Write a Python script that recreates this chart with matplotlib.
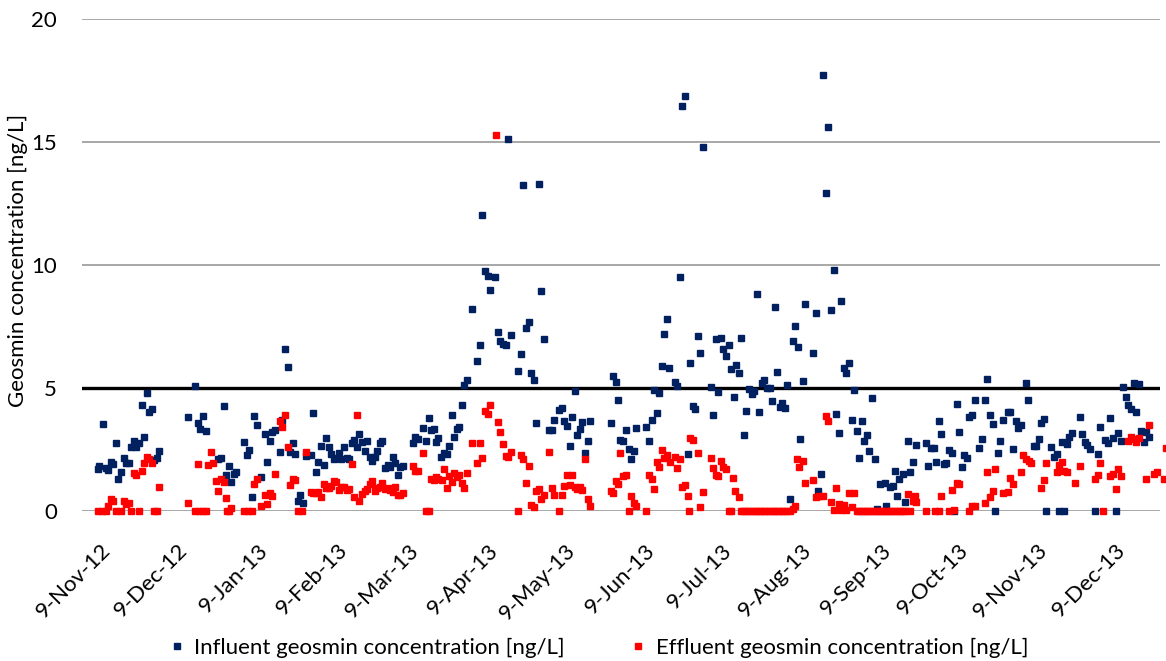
import matplotlib
matplotlib.use("Agg")
import matplotlib.pyplot as plt
from matplotlib.lines import Line2D
from datetime import date

# ---- data (x = days since 1-Nov-2012) ----
inf_day = [4.0, 4.7, 5.9, 7.2, 8.0, 9.2, 9.9, 11.1, 11.9, 13.0, 14.2, 15.0, 16.2, 16.9, 18.1, 18.9, 20.1,
           21.2, 22.0, 23.2, 24.0, 25.1, 25.9, 27.1, 27.9, 39.2, 41.9, 43.0, 43.8, 45.0, 46.2, 50.9, 52.0,
           53.2, 54.0, 55.1, 55.9, 57.1, 57.9, 61.0, 62.1, 62.9, 64.1, 64.9, 66.0, 67.8, 69.2, 69.9, 71.1,
           71.9, 73.0, 75.0, 75.8, 76.9, 78.1, 78.9, 80.1, 80.8, 82.0, 82.8, 84.0, 85.1, 87.1, 87.9, 89.1,
           89.8, 91.0, 92.2, 93.0, 94.1, 94.9, 96.1, 97.2, 98.0, 98.8, 100.0, 101.1, 101.9, 103.1, 103.8,
           105.0, 105.8, 107.0, 108.1, 108.9, 110.1, 110.8, 112.0, 112.8, 114.0, 114.7, 115.9, 117.1, 117.8,
           119.0, 119.8, 121.0, 121.7, 122.9, 126.8, 127.6, 128.8, 130.7, 131.9, 133.1, 133.8, 135.0, 135.8,
           136.5, 137.7, 138.9, 140.0, 140.8, 141.9, 142.8, 143.9, 144.7, 146.0, 146.6, 147.7, 149.8, 151.6,
           152.8, 153.7, 154.7, 155.9, 156.7, 158.6, 159.8, 160.6, 161.7, 162.9, 163.8, 164.9, 167.6, 168.8,
           169.5, 170.7, 171.9, 172.7, 173.8, 174.7, 175.9, 176.5, 177.7, 179.8, 181.0, 181.7, 183.7, 184.8,
           185.6, 186.8, 188.0, 188.7, 189.8, 190.7, 191.9, 192.6, 193.8, 195.0, 195.8, 203.9, 204.6, 205.8,
           206.6, 207.4, 208.6, 209.8, 210.9, 211.7, 212.9, 213.7, 217.5, 218.6, 219.8, 220.6, 221.7, 222.5,
           223.7, 224.5, 225.6, 226.6, 228.7, 229.5, 230.7, 231.5, 232.6, 233.8, 234.6, 235.8, 236.5, 237.7,
           238.5, 239.8, 242.8, 243.6, 244.7, 245.5, 246.7, 247.4, 248.6, 249.8, 250.6, 251.7, 252.5, 253.7,
           254.5, 255.6, 256.4, 257.6, 258.7, 259.5, 260.7, 261.5, 262.6, 263.4, 264.6, 265.8, 266.5, 267.7,
           268.5, 269.6, 270.4, 271.6, 272.4, 273.6, 274.7, 275.5, 276.7, 277.4, 278.6, 279.4, 282.5, 283.7,
           284.5, 285.6, 286.5, 287.6, 288.3, 289.5, 290.7, 291.5, 292.6, 293.4, 294.6, 295.4, 296.5, 297.7,
           298.5, 299.6, 300.4, 301.6, 302.4, 303.5, 304.3, 305.5, 306.7, 307.4, 308.6, 310.6, 311.0, 312.5,
           313.7, 314.5, 315.5, 316.0, 317.6, 318.4, 319.6, 320.3, 321.5, 322.7, 326.5, 327.3, 328.5, 329.7,
           330.5, 331.6, 332.4, 333.5, 334.3, 335.5, 336.6, 337.6, 338.6, 339.4, 340.6, 341.3, 342.5, 343.3,
           344.5, 345.6, 347.3, 348.5, 349.6, 350.4, 351.6, 352.7, 353.5, 354.7, 355.5, 356.6, 358.6, 359.3,
           360.5, 361.7, 362.5, 363.7, 365.6, 366.4, 368.8, 369.6, 370.7, 371.5, 372.7, 373.3, 375.4, 376.6,
           377.7, 378.3, 379.7, 380.3, 381.6, 382.5, 383.6, 386.7, 387.5, 388.7, 389.5, 390.7, 392.3, 393.8,
           394.5, 396.5, 397.7, 398.4, 399.6, 400.5, 401.6, 402.8, 403.4, 404.4, 405.3, 406.4, 407.6, 408.3,
           409.5, 410.3, 411.4, 412.2, 413.4]
inf_val = [1.69, 1.84, 3.54, 1.73, 1.67, 1.99, 1.91, 2.78, 1.31, 1.59, 2.17, 1.94, 1.96, 2.62, 2.86, 2.62, 2.78,
           4.32, 3.02, 4.81, 4.04, 4.16, 2.07, 2.17, 2.45, 3.83, 5.09, 3.59, 3.35, 3.87, 3.27, 2.13, 2.17,
           4.28, 1.48, 1.84, 1.19, 1.52, 1.60, 2.82, 2.29, 2.49, 0.58, 3.87, 3.51, 1.40, 3.14, 2.00, 2.86,
           3.22, 3.31, 2.41, 3.71, 6.60, 5.87, 2.41, 2.78, 2.33, 0.42, 0.66, 0.34, 2.25, 2.29, 4.00, 1.60,
           2.00, 2.65, 1.88, 2.98, 2.62, 2.33, 2.13, 2.17, 2.37, 2.13, 2.62, 2.17, 2.13, 2.78, 2.90,
           2.62, 3.14, 2.82, 2.45, 2.86, 2.21, 2.04, 2.21, 2.45, 2.78, 2.86, 1.76, 1.88, 1.80,
           2.21, 1.96, 1.48, 1.80, 1.84, 2.78, 3.02, 2.94, 3.39, 2.86, 3.79, 3.31, 3.35, 2.82,
           2.98, 2.21, 2.37, 2.33, 2.65, 3.92, 3.02, 3.35, 3.43, 4.32, 5.13, 5.34, 8.22, 6.11,
           6.76, 12.05, 9.77, 9.57, 9.00, 9.53, 7.29, 6.92, 6.80, 6.76, 15.12, 7.17, 5.70, 6.39,
           13.26, 7.45, 7.70, 5.62, 5.34, 3.59, 13.30, 8.96, 7.00, 3.31, 3.31, 3.71, 4.12, 4.20,
           3.67, 3.47, 2.65, 3.83, 4.89, 3.10, 3.35, 3.63, 2.37, 2.86, 3.67, 3.59, 5.50, 5.26,
           4.52, 2.90, 2.86, 3.31, 2.53, 2.13, 2.45, 3.39, 3.43, 2.86, 3.71, 4.93, 4.00, 4.81,
           5.91, 7.21, 7.82, 5.83, 5.26, 5.09, 9.52, 16.48, 16.88, 2.33, 6.03, 4.28, 4.16, 7.13,
           6.43, 14.81, 5.05, 3.91, 7.00, 4.85, 7.04, 6.60, 6.31, 6.76, 5.78, 4.65, 5.95, 5.62,
           7.04, 3.10, 4.08, 4.97, 4.77, 4.89, 8.83, 4.04, 5.22, 5.34, 5.01, 5.01, 4.48, 8.30,
           5.66, 4.24, 4.40, 4.20, 5.13, 0.50, 6.92, 7.53, 6.68, 2.94, 5.30, 8.43, 6.43, 8.06,
           0.83, 1.52, 17.74, 12.94, 15.62, 8.18, 9.81, 3.96, 3.18, 8.55, 5.83, 5.62, 6.03, 3.71,
           4.93, 3.26, 2.17, 3.67, 2.86, 3.10, 2.45, 4.61, 2.13, 0.09, 1.11, 1.15, 0.22, 0.99,
           1.03, 1.64, 0.62, 1.31, 1.52, 0.38, 2.86, 1.60, 2.00, 2.69, 2.78, 1.84, 2.57, 2.57,
           2.00, 3.67, 3.14, 1.92, 1.96, 2.49, 2.37, 0.00, 4.36, 3.22, 1.80, 2.29, 2.17, 3.83,
           3.92, 4.52, 2.57, 2.94, 4.52, 5.38, 3.92, 3.55, 0.00, 2.37, 2.86, 3.71, 4.04, 4.04,
           2.53, 3.67, 3.39, 3.51, 5.22, 4.52, 2.65, 2.65, 2.94, 3.59, 3.75, 0.00, 2.62, 2.21,
           2.33, 0.00, 2.82, 0.00, 2.74, 3.02, 3.18, 3.83, 3.14, 2.82, 2.70, 2.53, 0.00, 2.33,
           3.43, 2.90, 2.78, 3.79, 2.98, 0.00, 3.18, 2.86, 5.05, 4.65, 4.32, 4.16, 5.22, 4.04,
           5.18, 3.27, 2.82, 3.22, 3.02]

eff_day = [4.0, 5.6, 7.2, 8.0, 9.2, 9.9, 11.1, 13.0, 14.2, 15.0, 16.2, 16.9, 18.1, 18.9, 20.1, 21.2, 22.0,
           23.2, 24.0, 25.1, 25.9, 27.1, 27.9, 39.2, 41.9, 43.0, 43.4, 45.0, 46.2, 46.9, 48.1, 48.9, 50.0,
           50.9, 52.0, 53.2, 53.8, 54.2, 55.1, 55.9, 61.0, 62.6, 64.1, 64.9, 66.0, 67.8, 69.2, 69.9, 71.1,
           71.9, 73.0, 75.0, 75.8, 76.9, 78.1, 78.9, 80.1, 80.8, 82.0, 83.6, 85.1, 87.1, 87.9, 89.1, 89.8,
           91.0, 92.2, 93.0, 94.1, 94.9, 96.1, 96.8, 98.0, 98.8, 100.0, 101.1, 101.9, 103.1, 103.8, 105.0,
           105.8, 107.0, 108.1, 108.9, 110.1, 110.8, 112.0, 112.8, 114.0, 114.7, 115.9, 117.1, 117.8, 119.0,
           119.8, 121.0, 121.7, 122.9, 126.8, 127.6, 128.8, 130.7, 131.9, 133.1, 133.8, 135.0, 135.8, 136.5,
           138.1, 138.9, 140.0, 140.8, 141.9, 142.8, 143.9, 144.7, 146.0, 146.7, 147.9, 149.8, 151.7, 152.9,
           153.7, 154.9, 156.0, 156.8, 159.1, 159.9, 160.7, 161.9, 163.1, 163.8, 165.0, 167.7, 168.9, 169.6,
           170.8, 172.0, 172.8, 173.9, 174.7, 175.9, 176.6, 177.8, 179.8, 181.0, 181.7, 183.7, 184.8, 185.6,
           186.8, 188.0, 188.7, 189.9, 190.7, 191.9, 192.6, 193.8, 195.0, 195.8, 203.9, 204.7, 205.9, 206.6,
           207.4, 208.6, 209.8, 210.9, 211.7, 212.9, 213.7, 217.6, 218.7, 219.9, 220.6, 221.8, 222.6, 223.7,
           224.5, 225.7, 226.8, 228.8, 229.5, 230.7, 231.5, 232.6, 233.8, 234.4, 234.8, 235.8, 237.7, 238.5,
           239.7, 242.9, 243.7, 244.9, 245.6, 246.8, 247.6, 248.8, 249.9, 250.6, 251.6, 252.4, 253.8,
           254.5, 255.5, 256.5, 257.5, 258.5, 259.5, 260.5, 261.5, 262.5, 263.5, 264.5, 265.5, 266.5, 267.5,
           268.5, 269.5, 270.5, 271.5, 272.5, 273.5, 274.7, 275.6, 276.3, 277.2, 278.6, 279.4, 282.5, 283.7,
           284.8, 286.4, 287.6, 288.3, 289.5, 290.7, 291.5, 292.6, 293.4, 294.6, 295.4, 296.5, 297.7, 298.5,
           299.6, 300.6, 301.6, 302.6, 303.6, 304.6, 305.6, 306.6, 307.6, 308.6, 309.6, 310.6, 311.6, 312.6,
           313.6, 314.6, 315.6, 316.6, 317.6, 318.6, 319.6, 320.4, 321.5, 322.4, 322.9, 326.5, 330.0, 331.6,
           332.4, 335.5, 336.6, 337.4, 338.6, 339.4, 343.3, 344.5, 345.6, 349.5, 350.4, 351.6, 352.7, 353.5,
           356.6, 358.6, 359.3, 360.5, 363.7, 364.4, 365.6, 366.8, 367.6, 371.5, 372.7, 373.5, 377.7, 378.5,
           379.7, 380.3, 381.6, 384.7, 386.6, 392.3, 393.8, 394.5, 395.6, 398.4, 399.6, 400.7, 401.6, 402.8,
           405.3, 406.4, 407.6, 408.3, 409.5, 412.3, 413.4, 415.3, 416.5, 419.2, 420.0]
eff_val = [0, 0, 0, 0.22, 0.50, 0.42, 0, 0, 0.42, 0.30, 0.34, 0, 1.56, 1.48, 0, 1.64, 1.96,
           2.21, 2.13, 1.96, 0, 0, 0.99, 0.34, 0, 1.92, 0, 0, 0, 1.88, 2.41, 1.96, 1.23,
           0.83, 1.31, 1.19, 0.54, 0, 0, 0.14, 0, 0, 0, 1.11, 1.31, 0.22, 0.66, 0.30, 0.74,
           0.62, 1.52, 3.67, 3.43, 3.92, 2.62, 1.07, 1.31, 1.27, 0, 0, 2.41, 0.78, 0.74, 0.74, 0.78,
           0.58, 1.11, 0.95, 0.95, 1.03, 1.23, 1.19, 0.87, 0.99, 0.99, 0.87, 0.91, 1.92, 0.58, 3.92,
           0.42, 0.70, 0.83, 0.91, 1.11, 1.23, 0.83, 0.95, 0.99, 1.15, 0.91, 0.95, 0.87, 0.78,
           0.99, 0.66, 0.66, 0.74, 1.84, 1.64, 1.64, 2.37, 0, 0, 1.31, 1.27, 1.40, 1.31,
           1.27, 1.72, 0.95, 1.44, 1.19, 1.56, 1.40, 1.48, 1.15, 0.95, 1.56, 2.78, 1.96, 2.78,
           2.17, 4.08, 3.96, 4.32, 15.28, 3.63, 3.22, 2.74, 2.25, 2.21, 2.41, 0, 2.29, 2.13,
           1.15, 1.84, 0.26, 0.18, 0.83, 0.91, 0.50, 0.66, 2.41, 0.95, 0.66, 0, 0.66, 1.03,
           1.48, 1.07, 1.48, 0.99, 0.91, 0.99, 0.87, 2.13, 0.50, 0.22, 0.83, 0.74, 1.23, 1.11,
           2.37, 1.44, 1.48, 0, 0.62, 0.34, 0.22, 0, 1.48, 1.31, 0.91, 2.00, 1.80, 2.49,
           2.17, 2.29, 2.00, 2.21, 1.76, 2.13, 0.99, 1.07, 0.62, 0, 2.98, 2.90, 2.37, 0.18,
           0.78, 2.17, 1.76, 1.48, 1.44, 2.05, 1.80, 1.72, 0, 0, 1.35, 0.83, 0.58,
           0, 0, 0, 0, 0, 0, 0, 0, 0, 0, 0, 0, 0, 0,
           0, 0, 0, 0, 0, 0, 0.09, 0.20, 2.13, 1.80, 2.04, 1.15, 1.27, 0.58,
           0.62, 0.62, 3.87, 3.67, 0.38, 0.05, 0.95, 0.30, 0.05, 0.26, 0.05, 0.74, 0.18, 0.74,
           0, 0, 0, 0, 0, 0, 0, 0, 0, 0, 0, 0, 0, 0,
           0, 0, 0, 0, 0, 0, 0.70, 0, 0.42, 0.62, 0.38, 0, 0, 0,
           0.62, 0, 0.87, 0.05, 1.15, 1.11, 0, 0.22, 0.22, 0.34, 1.60, 0.58, 0.83, 1.72,
           0.74, 0.78, 1.35, 1.11, 1.60, 2.29, 2.13, 2.05, 1.96, 0.95, 1.27, 1.96, 1.60, 1.88,
           2.00, 1.64, 1.60, 1.15, 1.84, 1.31, 1.48, 1.96, 0, 1.44, 1.52, 0.91, 1.72, 1.44,
           2.86, 3.02, 2.94, 2.82, 2.98, 1.31, 3.51, 1.52, 1.60, 1.31, 2.57]

tick_labels = ["9-Nov-12", "9-Dec-12", "9-Jan-13", "9-Feb-13", "9-Mar-13", "9-Apr-13", "9-May-13",
               "9-Jun-13", "9-Jul-13", "9-Aug-13", "9-Sep-13", "9-Oct-13", "9-Nov-13", "9-Dec-13"]
tick_months = [(2012, 11), (2012, 12), (2013, 1), (2013, 2), (2013, 3), (2013, 4), (2013, 5),
               (2013, 6), (2013, 7), (2013, 8), (2013, 9), (2013, 10), (2013, 11), (2013, 12)]
y_ticks = [0, 5, 10, 15, 20]
threshold = 5

origin = date(2012, 11, 1)
tick_pos = [(date(y, m, 9) - origin).days for (y, m) in tick_months]

FONT = ["Lato", "DejaVu Sans"]
plt.rcParams['font.family'] = FONT

W, H = 1166, 661
fig = plt.figure(figsize=(W / 100, H / 100), dpi=100)
ax = fig.add_axes([82 / W, 1 - 511 / H, (1160 - 82) / W, (511 - 19) / H])

BLUE = "#002060"
RED = "#FF0000"

ax.plot(inf_day, inf_val, ls="none", marker="s", ms=5, color=BLUE, mec=BLUE, clip_on=False, zorder=4)
ax.plot(eff_day, eff_val, ls="none", marker="s", ms=5, color=RED, mec=RED, clip_on=False, zorder=5)

ax.set_xlim(-2.1, 417.8)
ax.set_ylim(0, 20)
ax.set_yticks(y_ticks)
ax.set_yticklabels([str(v) for v in y_ticks], fontsize=16)
for yv in y_ticks:
    ax.axhline(yv, color="#a0a0a0", lw=1.3, zorder=1)
ax.axhline(threshold, color="black", lw=2.4, zorder=3)

for s in ax.spines.values():
    s.set_visible(False)
ax.tick_params(axis="both", length=0)
ax.tick_params(axis="y", pad=18)

ax.set_xticks(tick_pos)
ax.set_xticklabels(tick_labels, rotation=45, ha="right", va="center",
                   rotation_mode="anchor", fontsize=16)
ax.tick_params(axis="x", pad=26)

ax.set_ylabel("Geosmin concentration [ng/L]", fontsize=16)
ax.yaxis.set_label_coords((28 - 82) / 1078, 0.51)

handles = [Line2D([], [], ls="none", marker="s", ms=4, color=BLUE),
           Line2D([], [], ls="none", marker="s", ms=4, color=RED)]
fig.legend(handles, ["Influent geosmin concentration [ng/L]", "Effluent geosmin concentration [ng/L]"],
           loc="center", bbox_to_anchor=(597 / W, 1 - 648 / H), ncol=2, frameon=False,
           fontsize=16, handletextpad=0.3, columnspacing=2.8, handlelength=1.0)

fig.savefig("out.png", dpi=100)
